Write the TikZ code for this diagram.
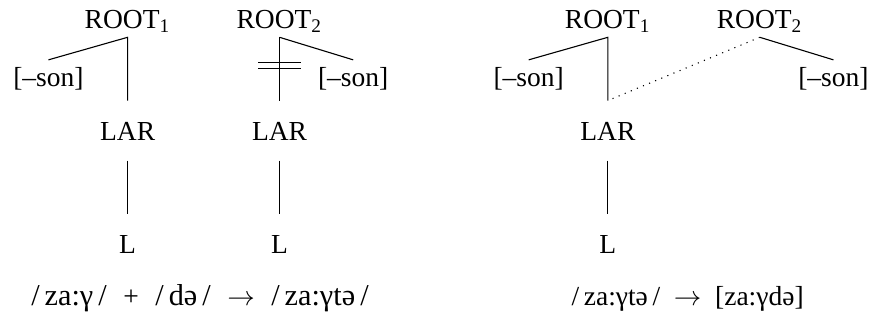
\documentclass[tikz,border=0pt]{standalone}
\usepackage{fontspec}
\setmainfont{Liberation Serif}
\usetikzlibrary{positioning}

\tikzset{
    rootnode/.style={inner sep=0pt, text height=7pt, text depth=3.16pt},
    featnode/.style={inner sep=0pt, text height=9.35pt, text depth=2pt},
    tiernode/.style={inner sep=0pt, text height=14.2pt, text depth=7.27pt},
    delink/.style={inner sep=0pt, minimum width=15.2pt, minimum height=1.96pt},
}
\newcommand{\ipagap}{\hspace{6pt}}

\begin{document}
\begin{tikzpicture}[x=1pt, y=1pt]
    \useasboundingbox (0,0) rectangle (317.4,117.8);

    % left: two roots before the rule
    \node[rootnode, anchor=base] (root1) at (46.4,107.6) {ROOT\textsubscript{1}};
    \node[rootnode, right=23.6pt of root1] (root2) {ROOT\textsubscript{2}};
    \node[featnode, below left=8.2pt and 0pt of root1] (son1) {[--son]};
    \node[featnode, below right=8.2pt and -2pt of root2] (son2) {[--son]};
    \node[tiernode, below=23pt of root1] (lar1) {LAR};
    \node[tiernode, below=23pt of root2] (lar2) {LAR};
    \node[tiernode, below=19.3pt of lar1] (L1) {L};
    \node[tiernode, below=19.3pt of lar2] (L2) {L};
    \draw (son1.north) -- (root1.south) -- (lar1.north);
    \draw (lar1.south) -- (L1.north);
    \draw (son2.north) -- (root2.south);
    \draw (root2.south) -- node[delink, pos=0.447] (cut) {} (lar2.north);
    \draw (cut.north west) -- (cut.north east) (cut.south west) -- (cut.south east);
    \draw (lar2.south) -- (L2.north);

    % right: LAR spread to the second root
    \node[rootnode, anchor=base] (root3) at (221.0,107.6) {ROOT\textsubscript{1}};
    \node[rootnode, right=23.6pt of root3] (root4) {ROOT\textsubscript{2}};
    \node[featnode, below left=8.2pt and 0pt of root3] (son3) {[--son]};
    \node[featnode, below right=8.2pt and -2pt of root4] (son4) {[--son]};
    \node[tiernode, below=23pt of root3] (lar3) {LAR};
    \node[tiernode, below=19.3pt of lar3] (L3) {L};
    \draw (son3.north) -- (root3.south) -- (lar3.north);
    \draw (root4.south) -- (son4.north);
    \draw[dotted] (root4.south) -- (lar3.north);
    \draw (lar3.south) -- (L3.north);

    % forms
    \node[anchor=base] (form1) at (72.7,6.9) {\fontsize{11}{13}\selectfont
        /\,za:γ\,/\ipagap{\normalsize+}\ipagap/\,də\,/\ipagap{\normalsize$\rightarrow$}\ipagap/\,za:γtə\,/};
    \node[anchor=base] (form2) at (250.0,6.9) {/\,za:γtə\,/\enskip$\rightarrow$\enskip[za:γdə]};

\end{tikzpicture}
\end{document}
